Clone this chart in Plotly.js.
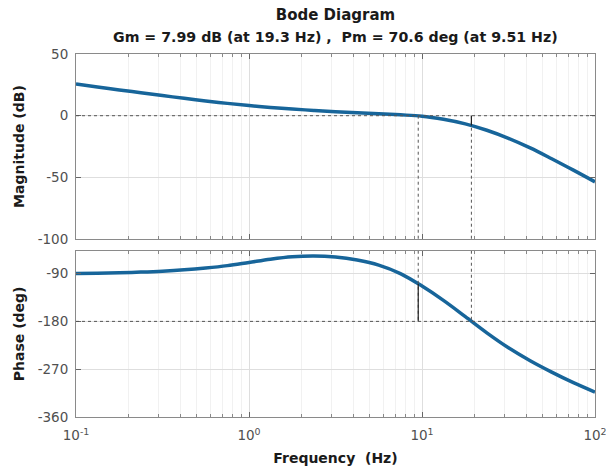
<!DOCTYPE html>
<html>
<head>
<meta charset="utf-8">
<script src="https://cdn.plot.ly/plotly-3.0.1.min.js"></script>
<style>html,body{margin:0;padding:0;background:#fff;}#chart{width:606px;height:473px;}</style>
</head>
<body>
<div id="chart"></div>
<script>
// Frequency samples (Hz) at 8 points per decade
const freq = [0.1, 0.133, 0.178, 0.237, 0.316, 0.422, 0.562, 0.75, 1, 1.33, 1.78, 2.37, 3.16, 4.22, 5.62, 7.5,
              10, 13.3, 17.8, 23.7, 31.6, 42.2, 56.2, 75, 100];
// Magnitude (dB)
const magDb = [25.8, 23.3, 20.9, 18.6, 16.3, 14.1, 12.0, 10.0, 8.2, 6.7, 5.4, 4.3, 3.3, 2.4, 1.5, 0.7,
               -0.35, -2.9, -6.6, -11.8, -18.3, -26.1, -34.9, -44.1, -53.6];
// Phase (deg)
const phaseDeg = [-90, -89.3, -88.4, -87.2, -85.5, -83, -79.5, -75, -69, -63, -58.5, -57, -59, -64.6, -74, -90,
                  -113.5, -140.4, -171, -201.5, -229.6, -254, -275.4, -295.3, -313];

// Stability margins
const gmDb = [7.99];
const gmFreq = [19.3];
const pmDeg = [70.6];
const pmFreq = [9.51];

// Axis ticks
const freqTickVals = [0.1, 1, 10, 100];
const freqTickText = ['10<sup>-1</sup>', '10<sup>0</sup>', '10<sup>1</sup>', '10<sup>2</sup>'];
const minorFreqVals = [0.2,0.3,0.4,0.5,0.6,0.7,0.8,0.9,2,3,4,5,6,7,8,9,20,30,40,50,60,70,80,90];
const magTicks = [-100, -50, 0, 50];
const magTickText = ['-100', '-50', '0', '50'];
const phaseTicks = [-360, -270, -180, -90];
const phaseTickText = ['-360', '-270', '-180', '-90'];
const magRange = [-100, 50];
const phaseRange = [-360, -47];

const curveColor = '#17659a';
const dotColor = '#555555';
const FONT = 'DejaVu Sans, Arial, sans-serif';

const traces = [
  {x: freq, y: magDb, xaxis: 'x', yaxis: 'y', mode: 'lines',
   line: {color: curveColor, width: 3.5, shape: 'spline', smoothing: 1}},
  {x: freq, y: phaseDeg, xaxis: 'x2', yaxis: 'y2', mode: 'lines',
   line: {color: curveColor, width: 3.5, shape: 'spline', smoothing: 1}},
  // magnitude plot: dotted verticals from 0 dB down
  {x: [pmFreq[0], pmFreq[0]], y: [0, magRange[0]], xaxis: 'x', yaxis: 'y', mode: 'lines',
   line: {color: dotColor, width: 1, dash: 'dot'}},
  {x: [gmFreq[0], gmFreq[0]], y: [0, magRange[0]], xaxis: 'x', yaxis: 'y', mode: 'lines',
   line: {color: dotColor, width: 1, dash: 'dot'}},
  // gain margin solid line
  {x: [gmFreq[0], gmFreq[0]], y: [0, -gmDb[0]], xaxis: 'x', yaxis: 'y', mode: 'lines',
   line: {color: '#222', width: 1.2}},
  // phase plot: dotted verticals from top to -180
  {x: [pmFreq[0], pmFreq[0]], y: [phaseRange[1], -180], xaxis: 'x2', yaxis: 'y2', mode: 'lines',
   line: {color: dotColor, width: 1, dash: 'dot'}},
  {x: [gmFreq[0], gmFreq[0]], y: [phaseRange[1], -180], xaxis: 'x2', yaxis: 'y2', mode: 'lines',
   line: {color: dotColor, width: 1, dash: 'dot'}},
  // phase margin solid line
  {x: [pmFreq[0], pmFreq[0]], y: [-180, -180 + pmDeg[0]], xaxis: 'x2', yaxis: 'y2', mode: 'lines',
   line: {color: '#222', width: 1.2}}
];

const tickFont = {family: FONT, size: 13.5, color: '#505050'};
const titleFont = {family: FONT, size: 14, color: '#1a1a1a', weight: 'bold'};

const xCommon = {
  type: 'log', range: [-1, 2], tickmode: 'array', tickvals: freqTickVals, ticktext: freqTickText,
  ticks: 'inside', ticklen: 5, tickcolor: '#666', showline: true, linecolor: '#8a8a8a', linewidth: 1,
  mirror: 'ticks', showgrid: true, gridcolor: '#dedede', gridwidth: 1, zeroline: false,
  minor: {tickmode: 'array', tickvals: minorFreqVals, ticks: 'inside', ticklen: 3, tickcolor: '#888',
          showgrid: true, gridcolor: '#f1f1f1', gridwidth: 1},
  tickfont: tickFont, ticklabeloverflow: 'allow', ticklabelstandoff: 6
};
const yCommon = {
  ticks: 'inside', ticklen: 5, tickcolor: '#666', showline: true, linecolor: '#8a8a8a', linewidth: 1,
  mirror: 'ticks', showgrid: true, gridcolor: '#dedede', zeroline: false, tickfont: tickFont,
  ticklabelstandoff: 4
};

const layout = {
  width: 606, height: 473,
  margin: {l: 76, r: 11, t: 54, b: 56},
  paper_bgcolor: '#ffffff', plot_bgcolor: '#ffffff',
  showlegend: false, hovermode: false,
  title: {text: '<b>Bode Diagram</b>', font: {family: FONT, size: 15, color: '#1a1a1a'},
          x: 0.5, xref: 'paper', xanchor: 'center', y: 1 - 15/473, yref: 'container', yanchor: 'middle'},
  annotations: [
    {text: '<b>Gm = 7.99 dB (at 19.3 Hz) ,  Pm = 70.6 deg (at 9.51 Hz)</b>', xref: 'paper', yref: 'paper',
     x: 0.5, y: 1 + 17/363, xanchor: 'center', yanchor: 'middle', showarrow: false,
     font: {family: FONT, size: 14.2, color: '#1a1a1a'}}
  ],
  xaxis: Object.assign({}, xCommon, {domain: [0, 1], anchor: 'y', showticklabels: false}),
  xaxis2: Object.assign({}, xCommon, {domain: [0, 1], anchor: 'y2', matches: 'x',
    title: {text: 'Frequency  (Hz)', font: titleFont, standoff: 10}}),
  yaxis: Object.assign({}, yCommon, {domain: [0.49, 1], anchor: 'x', range: magRange,
    tickmode: 'array', tickvals: magTicks, ticktext: magTickText,
    title: {text: 'Magnitude (dB)', font: titleFont, standoff: 9}}),
  yaxis2: Object.assign({}, yCommon, {domain: [0, 0.458], anchor: 'x2', range: phaseRange,
    tickmode: 'array', tickvals: phaseTicks, ticktext: phaseTickText,
    title: {text: 'Phase (deg)', font: titleFont, standoff: 9}}),
  shapes: [
    {type: 'line', xref: 'x domain', yref: 'y', x0: 0, x1: 1, y0: 0, y1: 0,
     line: {color: dotColor, width: 1, dash: 'dot'}},
    {type: 'line', xref: 'x2 domain', yref: 'y2', x0: 0, x1: 1, y0: -180, y1: -180,
     line: {color: dotColor, width: 1, dash: 'dot'}}
  ]
};

Plotly.newPlot('chart', traces, layout, {displayModeBar: false, staticPlot: true});
</script>
</body>
</html>
